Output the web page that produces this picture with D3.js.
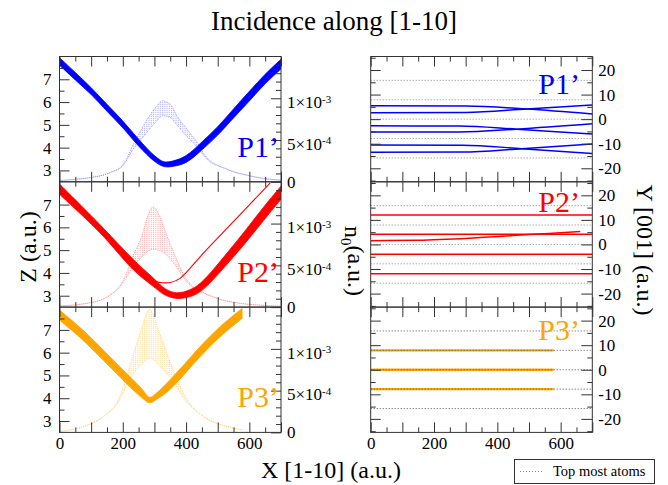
<!DOCTYPE html>
<html>
<head>
<meta charset="utf-8">
<script src="https://cdn.jsdelivr.net/npm/d3@7"></script>
<style>
body { margin: 0; background: #fff; }
svg text { font-family: "Liberation Serif", "Times New Roman", serif; fill: #000; }
</style>
</head>
<body>
<div id="chart"></div>
<script>
//----------------------------- Data
var panelNames = ["P1’", "P2’", "P3’"];
var xTickLabels = [0, 200, 400, 600];
var zTickLabels = [3, 4, 5, 6, 7];
var n0TickLabels = [0, 5e-4, 1e-3];
var yTickLabels = [-20, -10, 0, 10, 20];

// Z band (envelope of the trajectories), left panels
var p1X = [0, 50, 100, 150, 200, 250, 300, 330, 360, 400, 450, 500, 550, 600, 650, 700];
var p1ZLow = [7.62, 6.97, 6.33, 5.6, 4.87, 4.07, 3.4, 3.17, 3.18, 3.35, 3.9, 4.55, 5.3, 6.05, 6.8, 7.45];
var p1ZHigh = [7.95, 7.3, 6.63, 5.9, 5.17, 4.37, 3.65, 3.38, 3.42, 3.65, 4.25, 4.92, 5.7, 6.47, 7.22, 7.88];

var p2X = [0, 128, 234, 297, 335, 371, 410, 445, 551, 656, 700];
var p2ZLow = [7.45, 5.76, 4.13, 3.4, 3.02, 2.88, 2.95, 3.18, 4.72, 6.49, 7.23];
var p2ZHigh = [7.9, 6.12, 4.58, 3.77, 3.3, 3.13, 3.25, 3.55, 5.24, 7.08, 7.81];
var p2ThinX = [0, 128, 234, 270, 300, 325, 350, 380, 403, 445, 551, 666];
var p2ThinZ = [7.85, 6.05, 4.5, 4.0, 3.65, 3.57, 3.58, 3.75, 4.06, 4.72, 6.27, 7.95];

var p3X = [0, 74, 180, 233, 260, 285, 310, 338, 390, 444, 510, 577];
var p3ZLow = [7.43, 6.55, 5.09, 4.36, 4.03, 3.8, 3.98, 4.25, 4.98, 5.82, 6.73, 7.5];
var p3ZHigh = [7.87, 6.99, 5.53, 4.8, 4.42, 4.04, 4.27, 4.65, 5.42, 6.26, 7.17, 7.94];

// n0 distribution (x 1e-4), upper and lower envelope of the oscillation
var n1X = [0, 50, 97, 160, 202, 231, 265, 308, 325, 350, 371, 403, 439, 461, 530, 603, 667, 700];
var n1Top = [0.15, 0.3, 0.5, 1.1, 2.1, 4.3, 6.7, 9.1, 9.7, 9.3, 7.9, 6.3, 4.5, 3.1, 1.5, 0.7, 0.3, 0.2];
var n1Bot = [0.15, 0.3, 0.5, 1.1, 2.0, 3.8, 5.4, 7.3, 7.9, 7.7, 6.8, 5.4, 4.0, 2.9, 1.5, 0.7, 0.3, 0.2];

var n2X = [0, 86, 150, 202, 232, 260, 280, 296, 315, 340, 366, 403, 487, 572, 650, 700];
var n2Top = [0.15, 0.45, 1.2, 3.25, 6.1, 8.5, 11.0, 12.0, 11.0, 8.5, 6.1, 3.25, 1.2, 0.45, 0.2, 0.1];
var n2Bot = [0.15, 0.45, 1.2, 3.0, 4.8, 6.0, 6.7, 6.9, 6.8, 6.2, 5.0, 3.0, 1.2, 0.45, 0.2, 0.1];

var n3X = [0, 76, 139, 186, 222, 255, 285, 316, 355, 403, 455, 530, 578];
var n3Top = [0.1, 0.7, 1.9, 3.9, 7.9, 11.9, 14.7, 11.9, 7.9, 3.9, 1.9, 0.7, 0.3];
var n3Bot = [0.1, 0.7, 1.9, 3.6, 6.3, 8.0, 8.9, 8.0, 6.3, 3.6, 1.9, 0.7, 0.3];

// Y [001] trajectories, right panels
var y1Lines = [
    { x: [0, 300, 493, 700], y: [5.47, 5.35, 4.14, 2.12] },
    { x: [0, 300, 493, 700], y: [2.65, 2.75, 4.14, 5.76] },
    { x: [0, 280, 461, 700], y: [-2.73, -2.8, -4.07, -6.09] },
    { x: [0, 280, 461, 700], y: [-5.27, -5.2, -4.07, -1.92] },
    { x: [0, 290, 477, 700], y: [-10.5, -10.6, -12.0, -14.0] },
    { x: [0, 290, 477, 700], y: [-13.5, -13.4, -12.0, -10.1] }
];
var y2Lines = [
    { x: [0, 700], y: [12.0, 12.0] },
    { x: [0, 700], y: [4.2, 4.2] },
    { x: [0, 150, 324, 500, 662], y: [1.55, 1.7, 2.6, 4.0, 5.3] },
    { x: [0, 700], y: [-4.0, -4.0] },
    { x: [0, 700], y: [-11.95, -11.95] }
];
var y3Lines = [
    { x: [0, 578], y: [7.9, 7.9] },
    { x: [0, 578], y: [0, 0] },
    { x: [0, 578], y: [-7.9, -7.9] }
];
var topAtomsY = [15.8, 7.9, 0, -7.9, -15.8];

//----------------------------- Layout
var W = 668, H = 485;
var leftX0 = 59.5, leftX1 = 281;
var rightX0 = 370.7, rightX1 = 592.3;
var panelTop = [56.5, 181.8, 307.1];
var panelH = 125.3;
var serif = "'Liberation Serif', 'Times New Roman', serif";
var colors = ["#0000ff", "#ff0000", "#ffa500"];
var lightColors = ["#8080ff", "#ff8080", "#ffc860"];
var rightLabelDy = [37, 30, 33];

var bands = [
    { x: p1X, lo: p1ZLow, hi: p1ZHigh },
    { x: p2X, lo: p2ZLow, hi: p2ZHigh },
    { x: p3X, lo: p3ZLow, hi: p3ZHigh }
];
var bells = [
    { x: n1X, top: n1Top, bot: n1Bot },
    { x: n2X, top: n2Top, bot: n2Bot },
    { x: n3X, top: n3Top, bot: n3Bot }
];
var yLines = [y1Lines, y2Lines, y3Lines];

var svg = d3.select("#chart")
    .append("svg")
    .attr("width", W)
    .attr("height", H);

var defs = svg.append("defs");

// hatch pattern for the n0 curves
lightColors.forEach(function(c, i) {
    var p = defs.append("pattern")
        .attr("id", "hatch" + i)
        .attr("patternUnits", "userSpaceOnUse")
        .attr("width", 1.8)
        .attr("height", 2);
    p.append("rect")
        .attr("x", 0)
        .attr("y", 0)
        .attr("width", 0.7)
        .attr("height", 1.2)
        .attr("fill", c)
        .attr("opacity", 0.7);
});

// title
svg.append("text")
    .attr("x", 334)
    .attr("y", 30)
    .attr("text-anchor", "middle")
    .attr("font-size", "27px")
    .text("Incidence along [1-10]");

for (var i = 0; i < 3; i++) {
    drawLeftPanel(i);
    drawRightPanel(i);
}
drawLabels();

function clip(id, x0, y0, w, h) {
    defs.append("clipPath")
        .attr("id", id)
        .append("rect")
        .attr("x", x0)
        .attr("y", y0)
        .attr("width", w)
        .attr("height", h);
}

function styleAxis(g) {
    g.select(".domain").remove();
    g.attr("color", "#333")
        .attr("font-size", "17px")
        .attr("font-family", serif);
    g.selectAll(".tick line").attr("stroke-width", 1);
    g.selectAll(".tick text").attr("fill", "#000");
}

function drawFrame(x0, x1, top) {
    svg.append("rect")
        .attr("x", x0)
        .attr("y", top)
        .attr("width", x1 - x0)
        .attr("height", panelH)
        .attr("fill", "none")
        .attr("stroke", "#333")
        .attr("stroke-width", 1);
}

function xTicks(x, top, bottom, withLabels) {
    var fmt = function(d) {
        return withLabels && xTickLabels.indexOf(d) >= 0 ? String(d) : "";
    };
    svg.append("g")
        .attr("transform", "translate(0," + bottom + ")")
        .call(d3.axisBottom(x).tickValues(d3.range(0, 701, 100)).tickSize(-10).tickPadding(4.5).tickFormat(fmt))
        .call(styleAxis);
    svg.append("g")
        .attr("transform", "translate(0," + bottom + ")")
        .call(d3.axisBottom(x).tickValues(d3.range(50, 700, 100)).tickSize(-5).tickFormat(""))
        .call(styleAxis);
    svg.append("g")
        .attr("transform", "translate(0," + top + ")")
        .call(d3.axisTop(x).tickValues(d3.range(0, 701, 100)).tickSize(-10).tickFormat(""))
        .call(styleAxis);
    svg.append("g")
        .attr("transform", "translate(0," + top + ")")
        .call(d3.axisTop(x).tickValues(d3.range(50, 700, 100)).tickSize(-5).tickFormat(""))
        .call(styleAxis);
}

function drawLeftPanel(i) {
    var top = panelTop[i], bottom = top + panelH;
    var x = d3.scaleLinear().domain([0, 700]).range([leftX0, leftX1]);
    var z = d3.scaleLinear().domain([2.5, 8]).range([bottom, top]);
    var n = d3.scaleLinear().domain([0, 1.5e-3]).range([bottom, top]);

    clip("clipL" + i, leftX0, top, leftX1 - leftX0, panelH);
    var g = svg.append("g").attr("clip-path", "url(#clipL" + i + ")");

    // n0 distribution
    var bell = bells[i];
    var bellData = bell.x.map(function(v, k) {
        return { x: v, top: bell.top[k] * 1e-4, bot: bell.bot[k] * 1e-4 };
    });
    g.append("path")
        .datum(bellData)
        .attr("fill", "url(#hatch" + i + ")")
        .attr("d", d3.area()
            .x(function(d) { return x(d.x); })
            .y0(function(d) { return n(d.bot); })
            .y1(function(d) { return n(d.top); })
            .curve(d3.curveMonotoneX));
    ["top", "bot"].forEach(function(key) {
        g.append("path")
            .datum(bellData)
            .attr("fill", "none")
            .attr("stroke", lightColors[i])
            .attr("stroke-width", 0.7)
            .attr("stroke-dasharray", "1,1")
            .attr("d", d3.line()
                .x(function(d) { return x(d.x); })
                .y(function(d) { return n(d[key]); })
                .curve(d3.curveMonotoneX));
    });

    // Z trajectories band
    var band = bands[i];
    var bandData = band.x.map(function(v, k) {
        return { x: v, lo: band.lo[k], hi: band.hi[k] };
    });
    g.append("path")
        .datum(bandData)
        .attr("fill", colors[i])
        .attr("stroke", colors[i])
        .attr("stroke-width", 0.8)
        .attr("d", d3.area()
            .x(function(d) { return x(d.x); })
            .y0(function(d) { return z(d.lo); })
            .y1(function(d) { return z(d.hi); })
            .curve(d3.curveCatmullRom));

    if (i == 1) {
        g.append("path")
            .datum(p2ThinX.map(function(v, k) { return { x: v, z: p2ThinZ[k] }; }))
            .attr("fill", "none")
            .attr("stroke", colors[1])
            .attr("stroke-width", 1.1)
            .attr("d", d3.line()
                .x(function(d) { return x(d.x); })
                .y(function(d) { return z(d.z); })
                .curve(d3.curveCatmullRom));
    }

    drawFrame(leftX0, leftX1, top);
    xTicks(x, top, bottom, i == 2);

    // Z axis
    svg.append("g")
        .attr("transform", "translate(" + leftX0 + ",0)")
        .call(d3.axisLeft(z).tickValues(zTickLabels).tickSize(-10).tickPadding(8).tickFormat(d3.format("d")))
        .call(styleAxis);
    svg.append("g")
        .attr("transform", "translate(" + leftX0 + ",0)")
        .call(d3.axisLeft(z).tickValues([3.5, 4.5, 5.5, 6.5, 7.5]).tickSize(-5).tickFormat(""))
        .call(styleAxis);

    // n0 axis
    var nAxis = svg.append("g")
        .attr("transform", "translate(" + leftX1 + ",0)")
        .call(d3.axisRight(n).tickValues(n0TickLabels).tickSize(-10).tickPadding(6).tickFormat(function(d) { return String(d); }))
        .call(styleAxis);
    nAxis.selectAll(".tick text").each(function(d) {
        if (d <= 0) return;
        var t = d3.select(this);
        var ex = Math.round(Math.log10(d) - 0.5);
        var mant = Math.round(d / Math.pow(10, ex));
        t.text(null).attr("dy", "0.55em");
        t.append("tspan").text(mant + "×10");
        t.append("tspan").attr("dy", "-0.5em").attr("font-size", "11px").text(String(ex));
    });
    var minorN = d3.range(1, 15).filter(function(k) { return k % 5 != 0; }).map(function(k) { return k * 1e-4; });
    svg.append("g")
        .attr("transform", "translate(" + leftX1 + ",0)")
        .call(d3.axisRight(n).tickValues(minorN).tickSize(-5).tickFormat(""))
        .call(styleAxis);

    svg.append("text")
        .attr("x", 279)
        .attr("y", top + 100)
        .attr("text-anchor", "end")
        .attr("font-size", "30px")
        .style("fill", colors[i])
        .text(panelNames[i]);
}

function drawRightPanel(i) {
    var top = panelTop[i], bottom = top + panelH;
    var x = d3.scaleLinear().domain([0, 700]).range([rightX0, rightX1]);
    var y = d3.scaleLinear().domain([-25.5, 25.5]).range([bottom, top]);

    clip("clipR" + i, rightX0, top, rightX1 - rightX0, panelH);
    var g = svg.append("g").attr("clip-path", "url(#clipR" + i + ")");

    var line = d3.line()
        .x(function(d) { return x(d.x); })
        .y(function(d) { return y(d.y); })
        .curve(d3.curveMonotoneX);

    yLines[i].forEach(function(l) {
        g.append("path")
            .datum(l.x.map(function(v, k) { return { x: v, y: l.y[k] }; }))
            .attr("fill", "none")
            .attr("stroke", colors[i])
            .attr("stroke-width", i == 2 ? 2.4 : 1.5)
            .attr("d", line);
    });

    // top most atoms
    g.selectAll(".atoms")
        .data(topAtomsY)
        .enter()
        .append("line")
        .attr("x1", x(0))
        .attr("x2", x(700))
        .attr("y1", function(d) { return y(d); })
        .attr("y2", function(d) { return y(d); })
        .attr("stroke", i == 2 ? "#555" : "#888")
        .attr("stroke-width", 1)
        .attr("stroke-dasharray", "1,2");

    drawFrame(rightX0, rightX1, top);
    xTicks(x, top, bottom, i == 2);

    var fmt = function(d) { return String(d); };
    svg.append("g")
        .attr("transform", "translate(" + rightX0 + ",0)")
        .call(d3.axisLeft(y).tickValues(yTickLabels).tickSize(-10).tickFormat(""))
        .call(styleAxis);
    svg.append("g")
        .attr("transform", "translate(" + rightX0 + ",0)")
        .call(d3.axisLeft(y).tickValues([-25, -15, -5, 5, 15, 25]).tickSize(-5).tickFormat(""))
        .call(styleAxis);
    svg.append("g")
        .attr("transform", "translate(" + rightX1 + ",0)")
        .call(d3.axisRight(y).tickValues(yTickLabels).tickSize(-11).tickPadding(6).tickFormat(fmt))
        .call(styleAxis);
    svg.append("g")
        .attr("transform", "translate(" + rightX1 + ",0)")
        .call(d3.axisRight(y).tickValues([-25, -15, -5, 5, 15, 25]).tickSize(-5).tickFormat(""))
        .call(styleAxis);

    svg.append("text")
        .attr("x", 580)
        .attr("y", top + rightLabelDy[i])
        .attr("text-anchor", "end")
        .attr("font-size", "30px")
        .style("fill", colors[i])
        .text(panelNames[i]);
}

function drawLabels() {
    svg.append("text")
        .attr("x", 331)
        .attr("y", 478)
        .attr("text-anchor", "middle")
        .attr("font-size", "24px")
        .text("X [1-10] (a.u.)");

    svg.append("text")
        .attr("transform", "translate(36,247) rotate(-90)")
        .attr("text-anchor", "middle")
        .attr("font-size", "24px")
        .text("Z (a.u.)");

    var nl = svg.append("text")
        .attr("transform", "translate(345,261) rotate(90)")
        .attr("text-anchor", "middle")
        .attr("font-size", "24px");
    nl.append("tspan").text("n");
    nl.append("tspan").attr("dy", "0.3em").attr("font-size", "15px").text("0");
    nl.append("tspan").attr("dy", "-0.3em").text("(a.u.)");

    svg.append("text")
        .attr("transform", "translate(637,250) rotate(90)")
        .attr("text-anchor", "middle")
        .attr("font-size", "24px")
        .text("Y [001] (a.u.)");

    // legend
    svg.append("rect")
        .attr("x", 514.5)
        .attr("y", 459.5)
        .attr("width", 140)
        .attr("height", 24)
        .attr("fill", "#fff")
        .attr("stroke", "#333")
        .attr("stroke-width", 1);
    svg.append("line")
        .attr("x1", 520)
        .attr("x2", 543)
        .attr("y1", 471.5)
        .attr("y2", 471.5)
        .attr("stroke", "#888")
        .attr("stroke-dasharray", "1,2");
    svg.append("text")
        .attr("x", 553)
        .attr("y", 476)
        .attr("font-size", "14.5px")
        .text("Top most atoms");
}
</script>
</body>
</html>
